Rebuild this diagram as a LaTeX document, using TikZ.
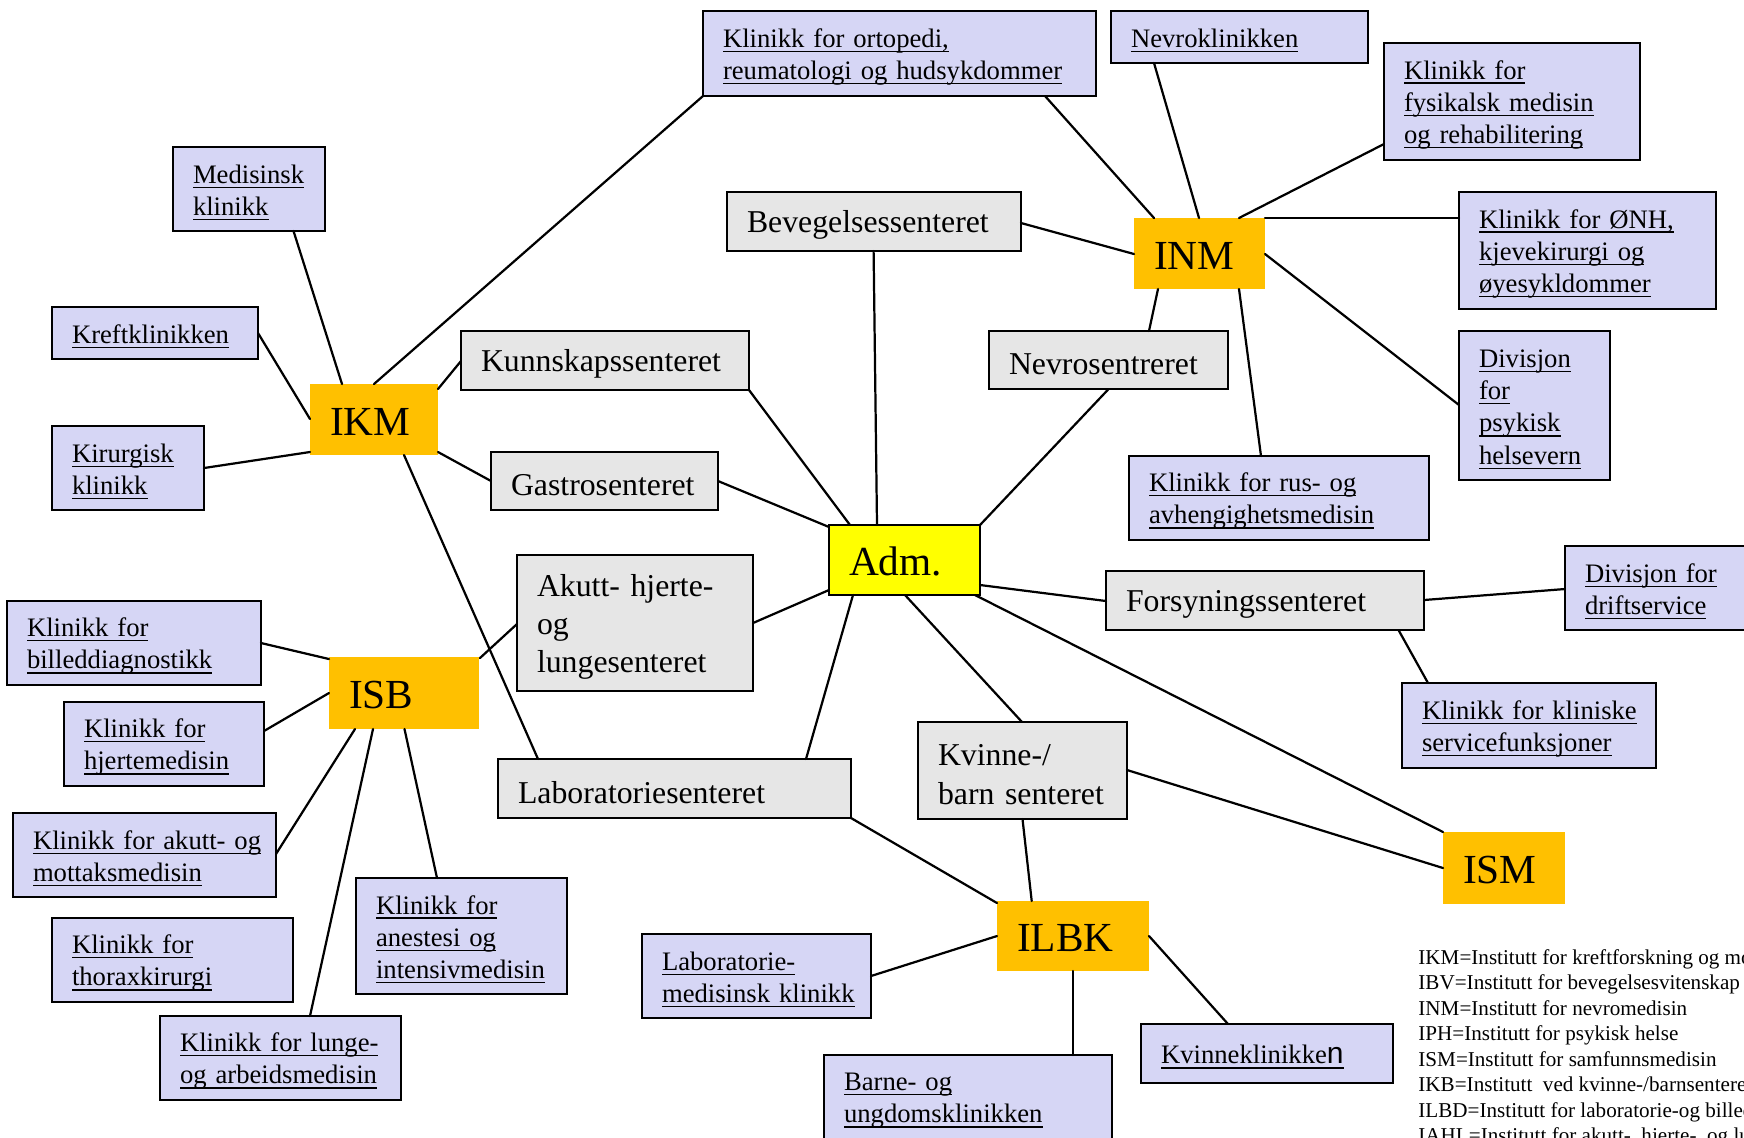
\documentclass[tikz,border=0pt]{standalone}
\usepackage{fontspec}
\setmainfont{Liberation Serif}
\newfontfamily\arialfont{Liberation Sans}

\definecolor{clinic}{RGB}{214,214,245}
\definecolor{centre}{RGB}{230,230,230}
\definecolor{inst}{RGB}{255,192,0}
\definecolor{admin}{RGB}{255,255,0}

% underlined clinic line that never breaks
\newsavebox\lkbox
\newcommand\lk[1]{\sbox\lkbox{#1}\mbox{\rlap{\rule[-2.1pt]{\wd\lkbox}{0.6pt}}\usebox\lkbox}}

% \unitbox{name}{style}{x1}{y1}{x2}{y2}{text}: box given by its corners
\newcommand\unitbox[7]{%
  \pgfmathsetlengthmacro\bw{(#5-#3)*0.45pt}%
  \pgfmathsetlengthmacro\bh{(#6-#4)*0.45pt}%
  \pgfmathsetlengthmacro\tw{(#5-#3-40)*0.45pt}%
  \node[#2, minimum width=\bw, minimum height=\bh, text width=\tw]
    (#1) at ({(#3+#5)/2},{(#4+#6)/2}) {#7};}

\tikzset{
  plainbox/.style={rectangle, inner xsep=9pt, inner ysep=1pt, align=left,
    line width=0.8pt, outer sep=0pt},
  % the strut on the first line sets the text a little below the middle
  clinicbox/.style={plainbox, draw=black, fill=clinic,
    font=\fontsize{12}{14.5}\selectfont,
    execute at begin node={\rule{0pt}{11.4pt}}},
  centrebox/.style={plainbox, draw=black, fill=centre,
    font=\fontsize{14.3}{17.2}\selectfont,
    execute at begin node={\rule{0pt}{13.2pt}}},
  instbox/.style={plainbox, fill=inst, font=\fontsize{18.6}{22}\selectfont,
    execute at begin node={\rule{0pt}{14pt}}},
  admbox/.style={plainbox, draw=black, fill=admin,
    font=\fontsize{18.6}{22}\selectfont,
    execute at begin node={\rule{0pt}{14pt}}},
  link/.style={line width=1pt, line cap=round},
  keyline/.style={anchor=base west, inner sep=0pt,
    font=\fontsize{9.5}{11.4}\selectfont},
}

\begin{document}
\begin{tikzpicture}[x=0.45pt, y=-0.45pt]
\useasboundingbox (0,0) rectangle (1744,1137);
\clip (0,0) rectangle (1744,1137);
\fill[white] (0,0) rectangle (1744,1137);

% institutes and administration
\unitbox{ikm}{instbox}{310}{384}{438}{455}{IKM}
\unitbox{inm}{instbox}{1134}{218}{1265}{289}{INM}
\unitbox{isb}{instbox}{329}{657}{479}{729}{ISB}
\unitbox{ilbk}{instbox}{997}{901}{1149}{971}{ILBK}
\unitbox{ism}{instbox}{1443}{832}{1565}{904}{ISM}
\unitbox{adm}{admbox}{829}{525}{980}{595}{Adm.}

% centres
\unitbox{kunn}{centrebox}{461}{331}{749}{390}{Kunnskapssenteret}
\unitbox{gastro}{centrebox}{491}{452}{718}{510}{Gastrosenteret}
\unitbox{bev}{centrebox}{727}{192}{1021}{251}{Bevegelsessenteret}
\unitbox{nevros}{centrebox}{989}{331}{1228}{389}{Nevrosentreret}
\unitbox{akutt}{centrebox}{517}{555}{753}{691}{Akutt- hjerte-\\og\\lungesenteret}
\unitbox{lab}{centrebox}{498}{759}{851}{818}{Laboratoriesenteret}
\unitbox{kvinne}{centrebox}{918}{722}{1127}{819}{Kvinne-/\\barn senteret}
\unitbox{fors}{centrebox}{1106}{571}{1424}{630}{Forsyningssenteret}

% clinics
\unitbox{med}{clinicbox}{173}{147}{325}{231}{\lk{Medisinsk}\\\lk{klinikk}}
\unitbox{kreft}{clinicbox}{52}{307}{258}{359}{\lk{Kreftklinikken}}
\unitbox{kir}{clinicbox}{52}{426}{204}{510}{\lk{Kirurgisk}\\\lk{klinikk}}
\unitbox{orto}{clinicbox}{703}{11}{1096}{96}{\lk{Klinikk for ortopedi,}\\\lk{reumatologi og hudsykdommer}}
\unitbox{nevrokl}{clinicbox}{1111}{11}{1368}{63}{\lk{Nevroklinikken}}
\unitbox{fys}{clinicbox}{1384}{43}{1640}{160}{\lk{Klinikk for}\\\lk{fysikalsk medisin}\\\lk{og rehabilitering}}
\unitbox{onh}{clinicbox}{1459}{192}{1716}{309}{\lk{Klinikk for ØNH,}\\\lk{kjevekirurgi og}\\\lk{øyesykldommer}}
\unitbox{psyk}{clinicbox}{1459}{331}{1610}{480}{\lk{Divisjon}\\\lk{for}\\\lk{psykisk}\\\lk{helsevern}}
\unitbox{rus}{clinicbox}{1129}{456}{1429}{540}{\lk{Klinikk for rus- og}\\\lk{avhengighetsmedisin}}
\unitbox{drift}{clinicbox}{1565}{546}{1790}{630}{\lk{Divisjon for}\\\lk{driftservice}}
\unitbox{klin}{clinicbox}{1402}{683}{1656}{768}{\lk{Klinikk for kliniske}\\\lk{servicefunksjoner}}
\unitbox{billed}{clinicbox}{7}{601}{261}{685}{\lk{Klinikk for}\\\lk{billeddiagnostikk}}
\unitbox{hjerte}{clinicbox}{64}{702}{264}{786}{\lk{Klinikk for}\\\lk{hjertemedisin}}
\unitbox{mottak}{clinicbox}{13}{813}{276}{897}{\lk{Klinikk for akutt- og}\\\lk{mottaksmedisin}}
\unitbox{thorax}{clinicbox}{52}{918}{293}{1002}{\lk{Klinikk for}\\\lk{thoraxkirurgi}}
\unitbox{lunge}{clinicbox}{160}{1016}{401}{1100}{\lk{Klinikk for lunge-}\\\lk{og arbeidsmedisin}}
\unitbox{anest}{clinicbox}{356}{878}{567}{994}{\lk{Klinikk for}\\\lk{anestesi og}\\\lk{intensivmedisin}}
\unitbox{labmed}{clinicbox}{642}{934}{871}{1018}{\lk{Laboratorie-}\\\lk{medisinsk klinikk}}
\unitbox{barne}{clinicbox}{824}{1055}{1112}{1139}{\lk{Barne- og}\\\lk{ungdomsklinikken}}
\unitbox{kvkl}{clinicbox}{1141}{1024}{1393}{1083}{\lk{Kvinneklinikke{\arialfont\fontsize{13.5}{14}\selectfont n}}}

% connectors (offsets measured from each box's top-left corner)
\begin{scope}[link]
% IKM
\draw ([shift={(32,0)}]ikm.north west) -- ([shift={(120.5,84)}]med.north west);
\draw ([shift={(0,35)}]ikm.north west) -- ([shift={(206,26)}]kreft.north west);
\draw ([shift={(0,68)}]ikm.north west) -- ([shift={(152,42)}]kir.north west);
\draw ([shift={(64,0)}]ikm.north west) -- ([shift={(0,85)}]orto.north west);
\draw ([shift={(128,5)}]ikm.north west) -- ([shift={(0,30)}]kunn.north west);
\draw ([shift={(128,68)}]ikm.north west) -- ([shift={(0,29)}]gastro.north west);
\draw ([shift={(94,71)}]ikm.north west) -- ([shift={(40,0)}]lab.north west);
% INM
\draw ([shift={(20,0)}]inm.north west) -- ([shift={(342,85)}]orto.north west);
\draw ([shift={(65,0)}]inm.north west) -- ([shift={(43,52)}]nevrokl.north west);
\draw ([shift={(0,36)}]inm.north west) -- ([shift={(294,31)}]bev.north west);
\draw ([shift={(105,0)}]inm.north west) -- ([shift={(0,101)}]fys.north west);
\draw ([shift={(131,0)}]inm.north west) -- ([shift={(0,26)}]onh.north west);
\draw ([shift={(131,36)}]inm.north west) -- ([shift={(0,74)}]psyk.north west);
\draw ([shift={(105,71)}]inm.north west) -- ([shift={(132,0)}]rus.north west);
\draw ([shift={(24,71)}]inm.north west) -- ([shift={(160,0)}]nevros.north west);
% Adm.
\draw ([shift={(48,0)}]adm.north west) -- ([shift={(146.6,59)}]bev.north west);
\draw ([shift={(21,0)}]adm.north west) -- ([shift={(288,59)}]kunn.north west);
\draw ([shift={(151,0)}]adm.north west) -- ([shift={(119.6,58)}]nevros.north west);
\draw ([shift={(0,2)}]adm.north west) -- ([shift={(227,29)}]gastro.north west);
\draw ([shift={(0,65)}]adm.north west) -- ([shift={(236,68)}]akutt.north west);
\draw ([shift={(24,70)}]adm.north west) -- ([shift={(308,0)}]lab.north west);
\draw ([shift={(76,70)}]adm.north west) -- ([shift={(104,0)}]kvinne.north west);
\draw ([shift={(146,70)}]adm.north west) -- (ism.north west);
\draw ([shift={(151,60)}]adm.north west) -- ([shift={(0,30)}]fors.north west);
% Forsyningssenteret
\draw ([shift={(318,29)}]fors.north west) -- ([shift={(0,43)}]drift.north west);
\draw ([shift={(292.5,59)}]fors.north west) -- ([shift={(26,0)}]klin.north west);
% Kvinne-/barn senteret and ILBK
\draw ([shift={(209,48)}]kvinne.north west) -- ([shift={(0,36)}]ism.north west);
\draw ([shift={(104.5,97)}]kvinne.north west) -- ([shift={(34.7,0)}]ilbk.north west);
\draw ([shift={(353,59)}]lab.north west) -- ([shift={(0,2)}]ilbk.north west);
\draw ([shift={(0,35)}]ilbk.north west) -- ([shift={(229,42)}]labmed.north west);
\draw ([shift={(76,70)}]ilbk.north west) -- ([shift={(249,0)}]barne.north west);
\draw ([shift={(152,35)}]ilbk.north west) -- ([shift={(87,0)}]kvkl.north west);
% ISB
\draw ([shift={(0,2)}]isb.north west) -- ([shift={(254,42)}]billed.north west);
\draw ([shift={(0,36)}]isb.north west) -- ([shift={(200,29)}]hjerte.north west);
\draw ([shift={(26,72)}]isb.north west) -- ([shift={(263,41)}]mottak.north west);
\draw ([shift={(44,72)}]isb.north west) -- ([shift={(150,0)}]lunge.north west);
\draw ([shift={(75.5,72)}]isb.north west) -- ([shift={(81,0)}]anest.north west);
\draw ([shift={(151,1)}]isb.north west) -- ([shift={(0,69)}]akutt.north west);
\end{scope}

% key to the abbreviations
\node[keyline] (key1) at (1418,964.3) {IKM=Institutt for kreftforskning og molekylær medisin};
\node[keyline] (key2) at (1418,989.8) {IBV=Institutt for bevegelsesvitenskap};
\node[keyline] (key3) at (1418,1015.3) {INM=Institutt for nevromedisin};
\node[keyline] (key4) at (1418,1040.8) {IPH=Institutt for psykisk helse};
\node[keyline] (key5) at (1418,1066.3) {ISM=Institutt for samfunnsmedisin};
\node[keyline] (key6) at (1418,1091.8) {IKB=Institutt\ \ ved kvinne-/barnsenteret};
\node[keyline] (key7) at (1418,1117.3) {ILBD=Institutt for laboratorie-og billeddiagnostikk};
\node[keyline] (key8) at (1418,1142.8) {IAHL=Institutt for akutt-\ \ hjerte-\ \ og lungemedisin};
\end{tikzpicture}
\end{document}
